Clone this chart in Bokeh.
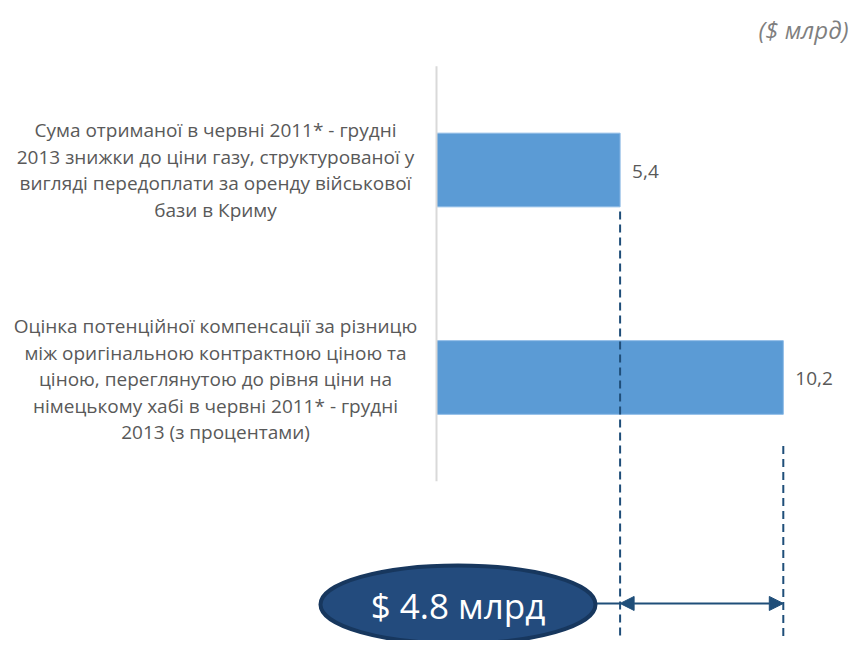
from bokeh.plotting import figure
from bokeh.models import Range1d, Arrow, NormalHead
from bokeh.core.properties import value
from bokeh.embed import file_html
from bokeh.resources import INLINE

# ---- data ----
categories = [
    "Сума отриманої в червні 2011* - грудні\n2013 знижки до ціни газу, структурованої у\nвигляді передоплати за оренду військової\nбази в Криму",
    "Оцінка потенційної компенсації за різницю\nміж оригінальною контрактною ціною та\nціною, переглянутою до рівня ціни на\nнімецькому хабі в червні 2011* - грудні\n2013 (з процентами)",
]
values = [5.4, 10.2]
value_labels = ["5,4", "10,2"]
unit_label = "($ млрд)"
difference_label = "$ {:.1f} млрд".format(values[1] - values[0])

# ---- styling constants ----
FONT = "Open Sans"
BAR_COLOR = "#5b9bd5"
TEXT_GRAY = "#595959"
NAVY = "#1f4e79"

idx = list(range(len(categories)))

W, H = 851, 640
# x: value 0 at 436 px from left, 34 px per unit; y: category i at 169.5 + 207.5*i px from top
x0_px, x_scale = 436.0, 34.0
y0_px, y_scale = 169.5, 207.5

p = figure(width=W, height=H,
           x_range=Range1d(-x0_px / x_scale, (W - x0_px) / x_scale),
           y_range=Range1d((H - y0_px) / y_scale, -y0_px / y_scale),
           x_axis_location=None, y_axis_location=None,
           toolbar_location=None, output_backend="svg",
           min_border=0, outline_line_color=None)
p.grid.visible = False
p.background_fill_color = "white"
p.border_fill_color = "white"

# bars
p.hbar(y=idx, left=0, right=values, height=0.355,
       fill_color=BAR_COLOR, line_color="#8dbbe6", line_width=1)

# category axis line
p.segment(x0=[0], y0=[-0.5], x1=[0], y1=[1.5], line_color="#d9d9d9", line_width=2)

# value labels
p.text(x=values, y=[i + 0.005 for i in idx], text=value_labels, x_offset=12,
       text_font=value(FONT), text_font_size="19px", text_color=TEXT_GRAY,
       text_align="left", text_baseline="middle")

# category labels (line by line)
line_step = 26.5 / y_scale
lx, ly, lt = [], [], []
for i, cat in zip(idx, categories):
    lines = cat.split("\n")
    n = len(lines)
    for k, ln in enumerate(lines):
        lx.append(-6.5)
        ly.append(i + 0.008 * i + (k - (n - 1) / 2) * line_step)
        lt.append(ln)
p.text(x=lx, y=ly, text=lt, text_font=value(FONT), text_font_size="19px",
       text_color=TEXT_GRAY, text_align="center", text_baseline="middle")

# unit label
p.text(x=[(W - 3 - x0_px) / x_scale], y=[-0.675], text=[unit_label], text_font=value(FONT),
       text_font_size="24px", text_font_style="italic", text_color="#7f7f7f",
       text_align="right", text_baseline="middle")

# dashed reference lines from bar ends
dash_start = [0.2, 1.33]
bottom = (H - y0_px) / y_scale
p.segment(x0=values, y0=dash_start, x1=values, y1=[bottom, bottom],
          line_color=NAVY, line_width=2, line_dash="8 5")

# difference arrow
arrow_y = 2.089
p.segment(x0=[0.632], y0=[arrow_y], x1=[values[0]], y1=[arrow_y],
          line_color=NAVY, line_width=2)
p.add_layout(Arrow(start=NormalHead(size=14, fill_color=NAVY, line_color=NAVY),
                   end=NormalHead(size=14, fill_color=NAVY, line_color=NAVY),
                   x_start=values[0], y_start=arrow_y, x_end=values[1], y_end=arrow_y,
                   line_color=NAVY, line_width=2))

# ellipse with the difference
p.ellipse(x=[0.632], y=[arrow_y + 0.005], width=[275 / x_scale], height=[0.376],
          fill_color="#234b7d", line_color="#17375e", line_width=4)
p.text(x=[0.632], y=[arrow_y + 0.012], text=[difference_label], text_font=value(FONT),
       text_font_size="35px", text_color="white", text_align="center",
       text_baseline="middle")

open("out.html", "w").write(file_html(p, INLINE))
